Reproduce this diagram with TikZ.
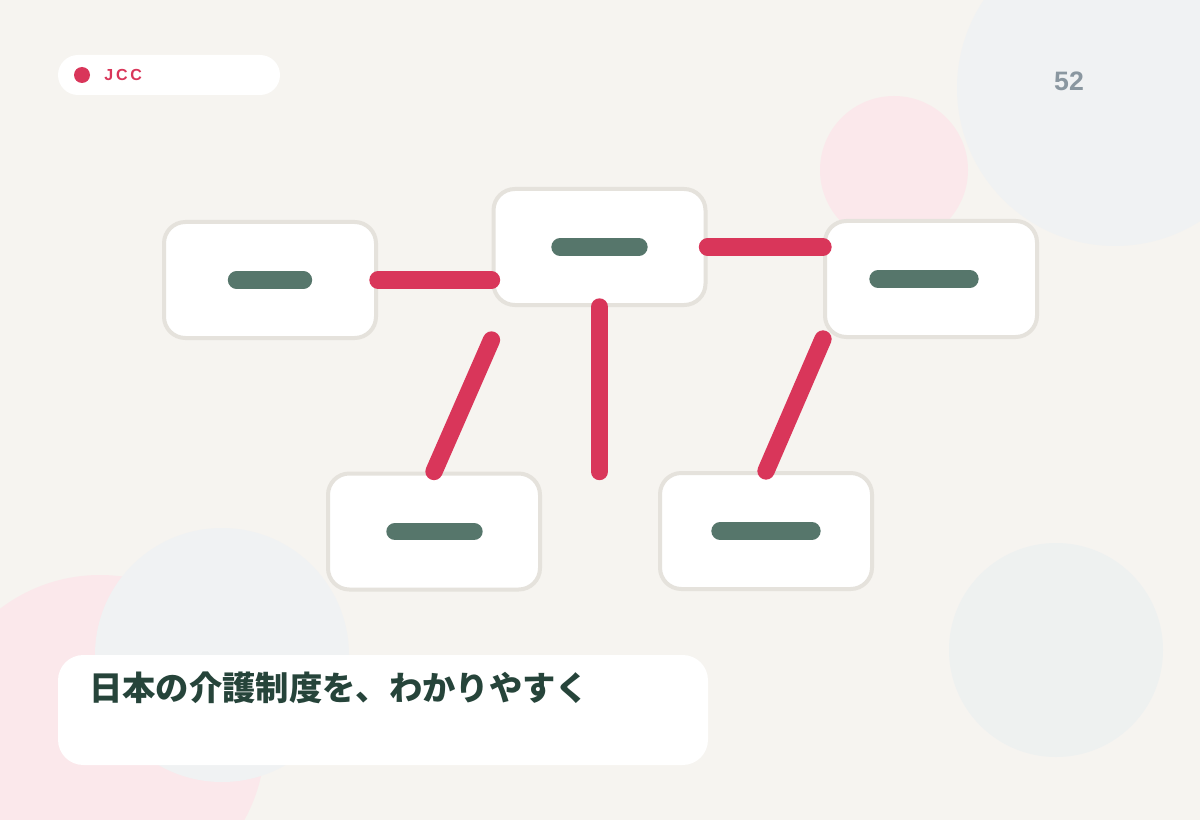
\documentclass[tikz,border=0pt]{standalone}
\usepackage{fontspec}
\setmainfont{Liberation Sans}
\newfontfamily\jpfont{Noto Sans CJK JP}
\usetikzlibrary{calc}
\definecolor{paper}{HTML}{F6F4F0}
\definecolor{mist}{HTML}{F0F2F3}
\definecolor{mistgreen}{HTML}{EEF1F0}
\definecolor{blush}{HTML}{FBE8EB}
\definecolor{linkred}{HTML}{D9365A}
\definecolor{bargreen}{HTML}{56766B}
\definecolor{cardedge}{HTML}{E5E2DC}
\definecolor{pagegray}{HTML}{8A97A0}
\definecolor{inkgreen}{HTML}{26443A}
\tikzset{
  card/.style={draw=cardedge, line width=3pt, fill=white, rounded corners=16pt,
    minimum width=159pt, minimum height=87pt, inner sep=0pt},
  bar/.style={draw=bargreen, line width=13pt, line cap=round},
  link/.style={draw=linkred, line width=13pt, line cap=round},
}
\begin{document}
\begin{tikzpicture}[x=0.75pt,y=-0.75pt]
      \useasboundingbox (0,0) rectangle (1200,820);
      \fill[paper] (0,0) rectangle (1200,820);
      % background discs
      \begin{scope}
        \clip (0,0) rectangle (1200,820);
        \fill[mist] (1115,88) circle (158);
        \fill[blush] (894,170) circle (74);
        \fill[blush] (100,740) circle (165);
        \fill[mist] (222,655) circle (127);
        \fill[mistgreen] (1056,650) circle (107);
      \end{scope}
      % tag and page number
      \fill[white, rounded corners=15pt] (58,55) rectangle (280,95);
      \fill[linkred] (82,75) circle (8);
      \node[anchor=west, inner sep=0pt, text=linkred,
        font=\bfseries\fontsize{12}{14}\selectfont\addfontfeatures{LetterSpace=18}] (tag) at (104,75) {JCC};
      \node[text=pagegray, font=\bfseries\fontsize{20}{24}\selectfont] (page) at (1069,81) {52};
      % cards
      \draw
        (270,280) node[card] (l) {}
        (599.5,247) node[card] (m) {}
        (931,279) node[card] (r) {}
        (434,531.5) node[card] (dl) {}
        (766,531) node[card] (dr) {};
      \draw[bar] ($(l)+(-33.5,0)$) -- ($(l)+(33.5,0)$);
      \draw[bar] ($(m)+(-39.5,0)$) -- ($(m)+(39.5,0)$);
      \draw[bar] ($(r)+(-53,0)$) -- ($(r)+(39,0)$);
      \draw[bar] ($(dl)+(-39,0)$) -- ($(dl)+(40,0)$);
      \draw[bar] ($(dr)+(-46,0)$) -- ($(dr)+(46,0)$);
      \begin{scope}[link]
        \draw (l.east) to (l.east -| m.west);
        \draw (m.east) to (m.east -| r.west);
        \draw ($(m.south west)+(0,33)$) to (dl.north);
        \draw (m.south) to (m.south |- dl.north);
        \draw (r.south west) to (dr.north);
      \end{scope}
      % caption
      \fill[white, rounded corners=19pt] (58,655) rectangle (708,765);
      \node[anchor=west, inner sep=0pt, text=inkgreen,
        font=\jpfont\bfseries\fontsize{25}{30}\selectfont] (title) at (89,688) {日本の介護制度を、わかりやすく};
    \end{tikzpicture}
\end{document}
